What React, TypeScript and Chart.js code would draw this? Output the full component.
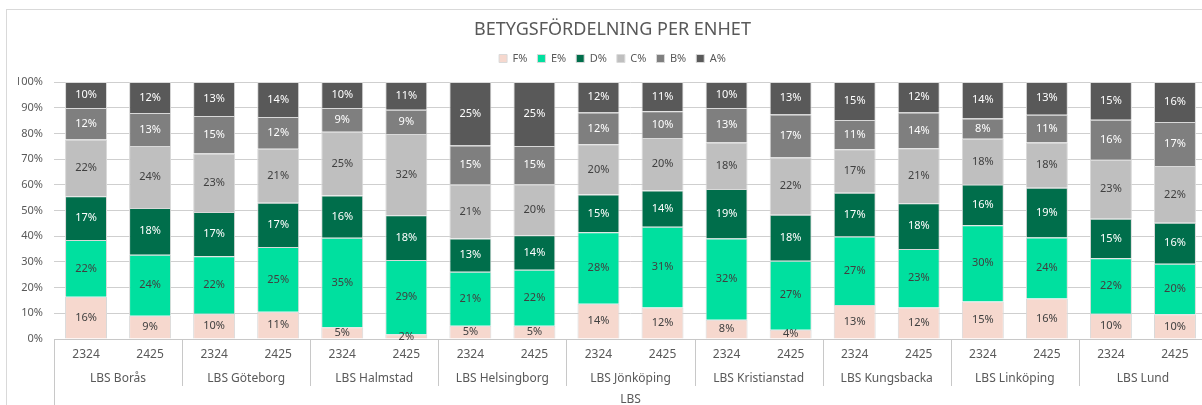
import React, { useEffect, useRef } from "react";
import { Chart, registerables } from "chart.js";

Chart.register(...registerables);

const FONT = "'Noto Sans', sans-serif";
const TEXT = "#595959";

const units = [
  "LBS Borås",
  "LBS Göteborg",
  "LBS Halmstad",
  "LBS Helsingborg",
  "LBS Jönköping",
  "LBS Kristianstad",
  "LBS Kungsbacka",
  "LBS Linköping",
  "LBS Lund",
];
const years = ["2324", "2425"];
const categories = [
  "LBS Borås 2324", "LBS Borås 2425",
  "LBS Göteborg 2324", "LBS Göteborg 2425",
  "LBS Halmstad 2324", "LBS Halmstad 2425",
  "LBS Helsingborg 2324", "LBS Helsingborg 2425",
  "LBS Jönköping 2324", "LBS Jönköping 2425",
  "LBS Kristianstad 2324", "LBS Kristianstad 2425",
  "LBS Kungsbacka 2324", "LBS Kungsbacka 2425",
  "LBS Linköping 2324", "LBS Linköping 2425",
  "LBS Lund 2324", "LBS Lund 2425",
];
const outerLabel = "LBS";
const yTicks = [0, 10, 20, 30, 40, 50, 60, 70, 80, 90, 100];

const fValues = [16.4, 9.0, 9.8, 10.6, 4.6, 1.8, 5.2, 5.2, 13.7, 12.3, 7.5, 3.6, 13.2, 12.3, 14.6, 15.8, 9.8, 9.6];
const eValues = [22.1, 23.8, 22.4, 25.2, 34.8, 28.9, 21.0, 21.7, 27.8, 31.4, 31.6, 26.8, 26.7, 22.7, 29.7, 23.7, 21.6, 19.7];
const dValues = [17.0, 18.2, 17.2, 17.2, 16.4, 17.5, 12.9, 13.5, 14.7, 14.1, 19.3, 17.9, 17.0, 17.8, 15.8, 19.4, 15.4, 15.9];
const cValues = [22.1, 24.1, 22.8, 21.0, 24.8, 31.6, 21.0, 19.8, 19.6, 20.4, 18.1, 22.3, 16.9, 21.4, 17.8, 17.6, 22.9, 22.1];
const bValues = [12.3, 12.8, 14.6, 12.4, 9.3, 9.4, 15.2, 14.9, 12.3, 10.4, 13.4, 16.8, 11.4, 13.9, 7.9, 10.8, 15.6, 17.1];
const aValues = [10.1, 12.1, 13.2, 13.6, 10.1, 10.8, 24.7, 24.9, 11.9, 11.4, 10.1, 12.6, 14.8, 11.9, 14.2, 12.7, 14.7, 15.6];

const seriesNames = ["F%", "E%", "D%", "C%", "B%", "A%"];
const seriesColors = ["#F6D8CE", "#00E09F", "#006E4B", "#BFBFBF", "#7F7F7F", "#595959"];
const labelColors = ["#404040", "#404040", "#FFFFFF", "#404040", "#FFFFFF", "#FFFFFF"];
const seriesValues = [fValues, eValues, dValues, cValues, bValues, aValues];

const legendGapPlugin = {
  id: "legendGap",
  beforeLayout(chart: any) {
    const lg = chart.legend;
    if (lg && !lg.__gapPatched) {
      const orig = lg.fit.bind(lg);
      lg.fit = () => {
        orig();
        lg.height += 8;
      };
      lg.__gapPatched = true;
    }
  },
};

const dataLabelPlugin = {
  id: "segmentLabels",
  afterDatasetsDraw(chart: any) {
    const { ctx } = chart;
    ctx.save();
    ctx.font = `11px ${FONT}`;
    ctx.textAlign = "center";
    ctx.textBaseline = "middle";
    chart.data.datasets.forEach((ds: any, di: number) => {
      const meta = chart.getDatasetMeta(di);
      if (meta.hidden) return;
      meta.data.forEach((el: any, i: number) => {
        const v = ds.data[i];
        const props = el.getProps(["x", "y", "base"], true);
        const cy = (props.y + props.base) / 2;
        ctx.fillStyle = labelColors[di];
        ctx.fillText(`${Math.round(v)}%`, props.x, cy);
      });
    });
    ctx.restore();
  },
};

const axisLabelPlugin = {
  id: "multiLevelAxis",
  afterDraw(chart: any) {
    const { ctx, chartArea, scales } = chart;
    const xs = scales.x;
    const n = chart.data.labels.length;
    const cw = xs.getPixelForValue(1) - xs.getPixelForValue(0);
    const bottom = chartArea.bottom;
    ctx.save();
    ctx.strokeStyle = "#C8C8C8";
    ctx.lineWidth = 1;
    const vline = (x: number, y1: number, y2: number) => {
      const px = Math.round(x) + 0.5;
      ctx.beginPath();
      ctx.moveTo(px, y1);
      ctx.lineTo(px, y2);
      ctx.stroke();
    };
    vline(chartArea.left, bottom, chart.height);
    vline(chartArea.right, bottom, chart.height);
    for (let g = 1; g < units.length; g++) {
      vline(xs.getPixelForValue(g * years.length) - cw / 2, bottom, bottom + 47);
    }
    ctx.fillStyle = TEXT;
    ctx.font = `12px ${FONT}`;
    ctx.textAlign = "center";
    ctx.textBaseline = "middle";
    for (let i = 0; i < n; i++) {
      ctx.fillText(years[i % years.length], xs.getPixelForValue(i), bottom + 16);
    }
    units.forEach((u, g) => {
      const cx = (xs.getPixelForValue(g * years.length) + xs.getPixelForValue(g * years.length + years.length - 1)) / 2;
      ctx.fillText(u, cx, bottom + 40);
    });
    ctx.fillText(outerLabel, (chartArea.left + chartArea.right) / 2, bottom + 61);
    ctx.restore();
  },
};

export default function App() {
  const ref = useRef<HTMLCanvasElement | null>(null);

  useEffect(() => {
    if (!ref.current) return;
    const chart = new Chart(ref.current, {
      type: "bar",
      data: {
        labels: categories,
        datasets: seriesNames.map((name, i) => ({
          label: name,
          data: seriesValues[i],
          backgroundColor: seriesColors[i],
          borderColor: "#D9D9D9",
          borderWidth: 1,
          categoryPercentage: 1,
          barPercentage: 0.655,
        })),
      },
      options: {
        responsive: false,
        animation: false,
        devicePixelRatio: 1,
        layout: { padding: { left: 11, right: 11, top: 7, bottom: 0 } },
        plugins: {
          title: {
            display: true,
            text: "BETYGSFÖRDELNING PER ENHET",
            color: TEXT,
            font: { family: FONT, size: 18, weight: "normal" },
            padding: { top: 2, bottom: 2.4 },
          },
          legend: {
            labels: {
              boxWidth: 8,
              boxHeight: 8,
              padding: 10,
              color: TEXT,
              font: { family: FONT, size: 11 },
            },
          },
          tooltip: { enabled: false },
        },
        scales: {
          x: {
            stacked: true,
            grid: { display: false, drawTicks: false },
            border: { display: true, color: "#C8C8C8" },
            ticks: { display: false },
            afterFit: (s: any) => {
              s.height = 66;
            },
          },
          y: {
            stacked: true,
            min: yTicks[0],
            max: yTicks[yTicks.length - 1],
            afterBuildTicks: (s: any) => {
              s.ticks = yTicks.map((v) => ({ value: v }));
            },
            ticks: {
              padding: 11,
              color: TEXT,
              font: { family: FONT, size: 11 },
              callback: (v: any) => `${v}%`,
            },
            grid: { color: "#CFCFCF", drawTicks: false },
            border: { display: false },
            afterFit: (s: any) => {
              s.width = 36;
            },
          },
        },
      },
      plugins: [legendGapPlugin, dataLabelPlugin, axisLabelPlugin],
    } as any);
    return () => chart.destroy();
  }, []);

  return (
    <div style={{ position: "fixed", left: 0, top: 0, width: "100vw", height: "100vh", overflow: "hidden", background: "#fff" }}>
      <div style={{ position: "absolute", left: 6, top: 9, width: 1211, height: 420, border: "1px solid #D9D9D9" }}>
        <canvas ref={ref} width={1211} height={395} style={{ display: "block", width: 1211, height: 395 }} />
      </div>
    </div>
  );
}
